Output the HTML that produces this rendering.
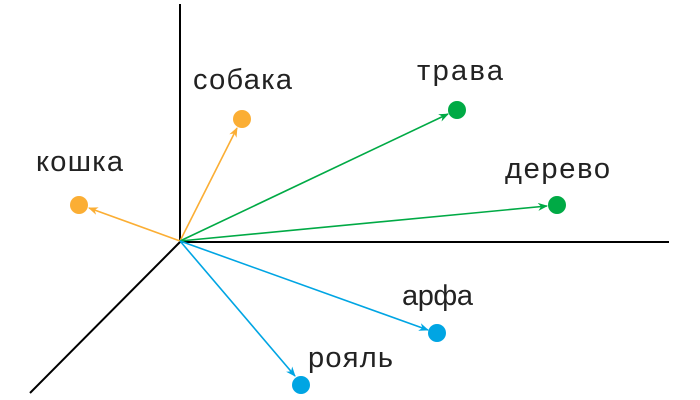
<html><body style="margin:0;background:#fff">
<svg width="700" height="400" xmlns="http://www.w3.org/2000/svg" font-family="Liberation Sans, DejaVu Sans, sans-serif" font-size="29" fill="#222">
<defs>
<marker id="o" markerWidth="10" markerHeight="8" refX="9" refY="4" orient="auto" markerUnits="userSpaceOnUse"><path d="M0,0L10,4L0,8L3,4z" fill="#FBAE34"/></marker>
<marker id="g" markerWidth="10" markerHeight="8" refX="9" refY="4" orient="auto" markerUnits="userSpaceOnUse"><path d="M0,0L10,4L0,8L3,4z" fill="#00AA45"/></marker>
<marker id="b" markerWidth="10" markerHeight="8" refX="9" refY="4" orient="auto" markerUnits="userSpaceOnUse"><path d="M0,0L10,4L0,8L3,4z" fill="#00A5E3"/></marker>
</defs>
<g stroke="#000" stroke-width="2">
<line x1="180" y1="4" x2="180" y2="242"/>
<line x1="180" y1="242" x2="669" y2="242"/>
<line x1="180" y1="242" x2="30" y2="393"/>
</g>
<g stroke-width="1.6" fill="none">
<line x1="180" y1="241" x2="89" y2="208" stroke="#FBAE34" marker-end="url(#o)"/>
<line x1="180" y1="241" x2="237" y2="128" stroke="#FBAE34" marker-end="url(#o)"/>
<line x1="180" y1="241" x2="448" y2="114" stroke="#00AA45" marker-end="url(#g)"/>
<line x1="180" y1="241" x2="547" y2="206" stroke="#00AA45" marker-end="url(#g)"/>
<line x1="180" y1="241" x2="428" y2="330" stroke="#00A5E3" marker-end="url(#b)"/>
<line x1="180" y1="241" x2="295" y2="376" stroke="#00A5E3" marker-end="url(#b)"/>
</g>
<circle cx="79" cy="205" r="9" fill="#FBAE34"/>
<circle cx="242" cy="119" r="9" fill="#FBAE34"/>
<circle cx="457" cy="110" r="9" fill="#00AA45"/>
<circle cx="557" cy="205" r="9" fill="#00AA45"/>
<circle cx="437" cy="333" r="9" fill="#00A5E3"/>
<circle cx="301" cy="385" r="9" fill="#00A5E3"/>
<text x="193" y="89" textLength="99">собака</text>
<text x="36" y="171" textLength="87">кошка</text>
<text x="417" y="80" textLength="86">трава</text>
<text x="505" y="178" textLength="105">дерево</text>
<text x="402" y="305" textLength="71">арфа</text>
<text x="308" y="367" textLength="85">рояль</text>
</svg>
</body></html>
